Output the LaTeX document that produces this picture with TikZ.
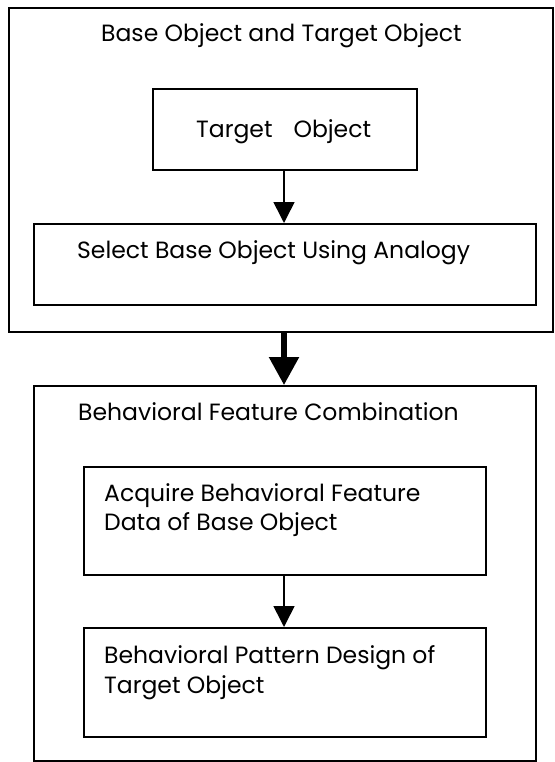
\documentclass[tikz,border=0pt]{standalone}
\usepackage{fontspec}
\setmainfont{Poppins}
\usetikzlibrary{arrows.meta}
\tikzset{
  box/.style={draw, line width=1.6pt, rectangle, inner sep=0pt},
  lbl/.style={anchor=base west, inner sep=0pt, font=\fontsize{23.5}{28}\selectfont},
  thinarrow/.style={line width=1.6pt, -{Triangle[length=21pt,width=21pt]}},
  boldarrow/.style={line width=5.5pt, -{Triangle[length=28pt,width=29pt]}},
}
\begin{document}
\begin{tikzpicture}[x=1pt,y=-1pt]
\useasboundingbox (0,0) rectangle (554,762);
% outer boxes
\node[box, minimum width=544pt, minimum height=324pt, anchor=north west] (outerA) at (8,7) {};
\node[box, minimum width=502pt, minimum height=375pt, anchor=north west] (outerB) at (33,385) {};
% inner boxes
\node[box, minimum width=264pt, minimum height=81pt, anchor=north west] (target) at (152,88) {};
\node[box, minimum width=502pt, minimum height=81pt, anchor=north west] (select) at (33,223) {};
\node[box, minimum width=402pt, minimum height=108pt, anchor=north west] (acquire) at (83,466) {};
\node[box, minimum width=402pt, minimum height=109pt, anchor=north west] (pattern) at (83,627) {};
% labels
\node[lbl] (titleA) at (101,42) {Base Object and Target Object};
\node[lbl] (targettxt) at (196,138) {Target\hspace{21pt}Object};
\node[lbl] (selecttxt) at (77,258) {Select Base Object Using Analogy};
\node[lbl] (titleB) at (78,420) {Behavioral Feature Combination};
\node[lbl] (acqA) at (104,501) {Acquire Behavioral Feature};
\node[lbl] (acqB) at (104,530) {Data of Base Object};
\node[lbl] (patA) at (104,663) {Behavioral Pattern Design of};
\node[lbl] (patB) at (104,693) {Target Object};
% connectors
\draw[thinarrow] (target.south -| 284,0) -- (select.north -| 284,0);
\draw[boldarrow] (outerA.south -| 284,0) -- (outerB.north -| 284,0);
\draw[thinarrow] (acquire.south -| 284,0) -- (pattern.north -| 284,0);
\end{tikzpicture}
\end{document}
